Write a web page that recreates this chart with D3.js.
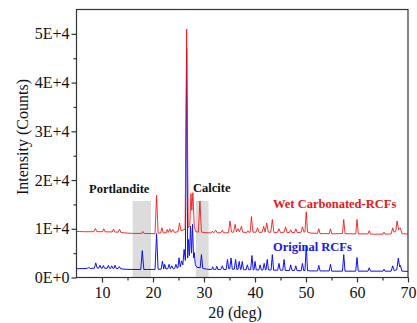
<!DOCTYPE html>
<html>
<head>
<meta charset="utf-8">
<script src="https://cdn.jsdelivr.net/npm/d3@7"></script>
<style>
  body { margin: 0; background: #fff; }
  svg { display: block; }
  svg text { font-family: "Times New Roman", "Liberation Serif", "DejaVu Serif", serif; }
</style>
</head>
<body>
<svg id="chart" width="417" height="323"></svg>
<script>
// [2theta (deg), counts]
const wetRCFs = [
  [5.0,9450],[6.5,9400],[8.4,9400],[8.7,10050],[9.0,9400],[10.1,9400],[10.35,10000],[10.6,9380],
  [12.0,9350],[12.25,9950],[12.5,9330],[13.2,9300],[13.45,9900],[13.7,9250],[14.5,9150],[16.0,9050],
  [17.8,9050],[18.0,9450],[18.2,9050],[20.4,9000],[20.7,16900],[21.0,9100],[21.5,9150],[21.75,10200],
  [22.0,9150],[22.6,9200],[22.8,9850],[23.0,9250],[23.3,10000],[23.55,9250],[23.9,9850],[24.2,9250],
  [24.9,9400],[25.2,11200],[25.5,9600],[26.3,9900],[26.6,51000],[26.9,10200],[27.2,10600],[27.45,17200],
  [27.62,13800],[27.82,17400],[28.1,10400],[28.4,9400],[28.9,9300],[29.2,15700],[29.5,9300],[30.5,9200],
  [31.4,9150],[31.65,9500],[31.9,9150],[32.3,9700],[32.6,9150],[33.3,9200],[33.6,9700],[33.9,9150],
  [34.8,9200],[35.1,11600],[35.4,9300],[35.8,9300],[36.1,10900],[36.35,9400],[36.7,10000],[36.95,9400],
  [37.35,10500],[37.6,9300],[38.4,9250],[38.6,9600],[38.8,9250],[39.05,9300],[39.3,12500],[39.6,9300],
  [40.2,9300],[40.5,10200],[40.8,9250],[41.4,9300],[41.7,10500],[42.0,9300],[42.3,11200],[42.6,9300],
  [43.1,9300],[43.4,11900],[43.7,9250],[44.4,9250],[44.7,10000],[45.0,9200],[45.7,9300],[46.0,10400],
  [46.3,9200],[46.75,9250],[47.0,9800],[47.25,9200],[47.75,9250],[48.0,10000],[48.3,9200],[49.05,9300],
  [49.3,10400],[49.6,9300],[49.8,9400],[50.05,13500],[50.3,9300],[51.0,9100],[52.25,9050],[52.5,10000],
  [52.75,9000],[54.55,9000],[54.8,10000],[55.05,8950],[56.5,9000],[57.15,9050],[57.4,11900],[57.65,9000],
  [59.75,8950],[60.0,11900],[60.25,8950],[62.15,8950],[62.4,9600],[62.65,8900],[65.1,8900],[65.3,9300],
  [65.5,8900],[66.7,8950],[67.0,10200],[67.25,9300],[67.6,9500],[67.85,11600],[68.15,9800],[68.5,10200],
  [68.8,9000],[70.0,8900]
];
const originalRCFs = [
  [5.0,1800],[7.0,1850],[7.4,2050],[7.7,1850],[8.5,1900],[8.77,3000],[9.05,1950],[9.35,1900],[9.6,2500],
  [9.85,1900],[10.05,1900],[10.27,2450],[10.5,1900],[11.0,1900],[11.25,2500],[11.5,1880],[11.7,1880],
  [11.9,2400],[12.15,1880],[12.35,1880],[12.55,2500],[12.8,1850],[13.15,1850],[13.4,2250],[13.65,1800],
  [14.5,1700],[15.5,1650],[17.6,1650],[17.9,5500],[18.2,1650],[19.0,1650],[20.4,1650],[20.7,9000],
  [21.0,1700],[21.6,1700],[21.85,3350],[22.1,1750],[22.3,2700],[22.55,1750],[22.9,1800],[23.15,2700],
  [23.4,1800],[23.7,2400],[23.95,1800],[24.25,1850],[24.5,2700],[24.75,1900],[24.9,2000],[25.1,4050],
  [25.35,2200],[25.6,3400],[25.85,2600],[26.1,5750],[26.35,3500],[26.6,47000],[26.8,4000],[26.95,7800],
  [27.15,4500],[27.35,10500],[27.55,5000],[27.75,10900],[27.95,4000],[28.1,5100],[28.3,2600],[28.6,2100],
  [29.25,2000],[29.5,4700],[29.75,1900],[30.5,1700],[31.5,1650],[31.7,2200],[31.9,1650],[32.3,1650],
  [32.5,2300],[32.7,1650],[33.3,1650],[33.6,2400],[33.85,1650],[34.35,1650],[34.6,3700],[34.85,1800],
  [35.05,1800],[35.3,4000],[35.55,1700],[35.95,1700],[36.2,3700],[36.45,1650],[36.65,1650],[36.9,3300],
  [37.15,1650],[37.25,1650],[37.5,3300],[37.75,1600],[38.25,1600],[38.5,2600],[38.75,1600],[39.15,1600],
  [39.4,4500],[39.65,1600],[39.8,1600],[40.0,3300],[40.25,1550],[40.75,1550],[41.0,2600],[41.25,1550],
  [41.55,1550],[41.8,2900],[42.05,1550],[42.15,1550],[42.4,3700],[42.65,1550],[43.15,1550],[43.4,4700],
  [43.65,1500],[44.45,1500],[44.7,2900],[44.95,1500],[45.45,1500],[45.7,3700],[45.95,1450],[46.75,1450],
  [47.0,2600],[47.25,1450],[47.75,1450],[48.0,2400],[48.25,1400],[49.05,1400],[49.3,2900],[49.55,1400],
  [49.8,1450],[50.05,6500],[50.3,1400],[51.0,1350],[52.25,1350],[52.5,2500],[52.75,1350],[54.55,1350],
  [54.8,2700],[55.05,1300],[57.15,1300],[57.4,4700],[57.65,1300],[59.75,1300],[60.0,4100],[60.25,1300],
  [62.15,1300],[62.4,2000],[62.65,1300],[65.1,1300],[65.3,1700],[65.5,1300],[66.7,1300],[67.0,2400],
  [67.3,1400],[67.8,1600],[68.1,4000],[68.35,2200],[68.5,2500],[68.8,1300],[70.0,1250]
];
// shaded phase windows [from, to] in 2theta, and their top in counts
const phaseBands = [[16.0, 19.6], [28.4, 30.9]];
const bandTop = 15700;
const xTicks = [10, 20, 30, 40, 50, 60, 70];
const yTicks = [0, 10000, 20000, 30000, 40000, 50000];
const yTickLabels = ['0E+0', '1E+4', '2E+4', '3E+4', '4E+4', '5E+4'];

const svg = d3.select('#chart');
const plotLeft = 76.5, plotRight = 408, plotTop = 9.5, plotBottom = 277.5;
const serif = '"Times New Roman", "Liberation Serif", "DejaVu Serif", serif';

const x = d3.scaleLinear().domain([5, 70]).range([plotLeft, plotRight]);
const y = d3.scaleLinear().domain([0, 55000]).range([plotBottom, plotTop]);

// gray bands
svg.selectAll('rect.band')
  .data(phaseBands)
  .enter()
  .append('rect')
  .attr('class', 'band')
  .attr('x', d => x(d[0]))
  .attr('width', d => x(d[1]) - x(d[0]))
  .attr('y', y(bandTop))
  .attr('height', y(0) - y(bandTop))
  .style('fill', '#dcdcdc');

const line = d3.line()
  .x(d => x(d[0]))
  .y(d => y(d[1]));

svg.append('path')
  .datum(originalRCFs)
  .attr('d', line)
  .style('fill', 'none')
  .style('stroke', '#1010f0')
  .style('stroke-width', 1);

svg.append('path')
  .datum(wetRCFs)
  .attr('d', line)
  .style('fill', 'none')
  .style('stroke', '#f01010')
  .style('stroke-opacity', 0.85)
  .style('stroke-width', 1);

// axes
const xAxis = svg.append('g')
  .attr('transform', 'translate(0,' + plotBottom + ')')
  .call(d3.axisBottom(x).tickValues(xTicks).tickSize(5).tickPadding(4).tickFormat(d3.format('d')));
const xMinor = svg.append('g')
  .attr('transform', 'translate(0,' + plotBottom + ')')
  .call(d3.axisBottom(x).tickValues([15, 25, 35, 45, 55, 65]).tickSize(3).tickFormat(''));

const yAxis = svg.append('g')
  .attr('transform', 'translate(' + plotLeft + ',0)')
  .call(d3.axisLeft(y).tickValues(yTicks).tickSize(5).tickPadding(2).tickFormat((d, i) => yTickLabels[i]));
const yMinor = svg.append('g')
  .attr('transform', 'translate(' + plotLeft + ',0)')
  .call(d3.axisLeft(y).tickValues([5000, 15000, 25000, 35000, 45000]).tickSize(3).tickFormat(''));

[xAxis, xMinor, yAxis, yMinor].forEach(g => {
  g.attr('font-family', null);
  g.select('.domain').remove();
  g.selectAll('line').style('stroke', '#333').style('stroke-width', 1.2);
  g.selectAll('text')
    .style('font-family', serif)
    .style('font-size', '16px')
    .style('fill', '#111');
});

// frame
svg.append('rect')
  .attr('x', plotLeft)
  .attr('y', plotTop)
  .attr('width', plotRight - plotLeft)
  .attr('height', plotBottom - plotTop)
  .style('fill', 'none')
  .style('stroke', '#333')
  .style('stroke-width', 1.2);

// axis titles
svg.append('text')
  .attr('x', 235)
  .attr('y', 318)
  .style('text-anchor', 'middle')
  .style('font-family', serif)
  .style('font-size', '16px')
  .style('fill', '#111')
  .text('2θ (deg)');

svg.append('text')
  .attr('transform', 'translate(28,137) rotate(-90)')
  .style('text-anchor', 'middle')
  .style('font-family', serif)
  .style('font-size', '16px')
  .style('fill', '#111')
  .text('Intensity (Counts)');

// annotations
const notes = [
  { t: 'Portlandite', x: 89, y: 193, c: '#111' },
  { t: 'Calcite', x: 193, y: 192, c: '#111' },
  { t: 'Wet Carbonated-RCFs', x: 273, y: 208, c: '#e81818' },
  { t: 'Original RCFs', x: 273, y: 251, c: '#1818e0' }
];
svg.selectAll('text.note')
  .data(notes)
  .enter()
  .append('text')
  .attr('class', 'note')
  .attr('x', d => d.x)
  .attr('y', d => d.y)
  .style('font-family', serif)
  .style('font-size', '12.5px')
  .style('font-weight', 'bold')
  .style('fill', d => d.c)
  .text(d => d.t);
</script>
</body>
</html>
